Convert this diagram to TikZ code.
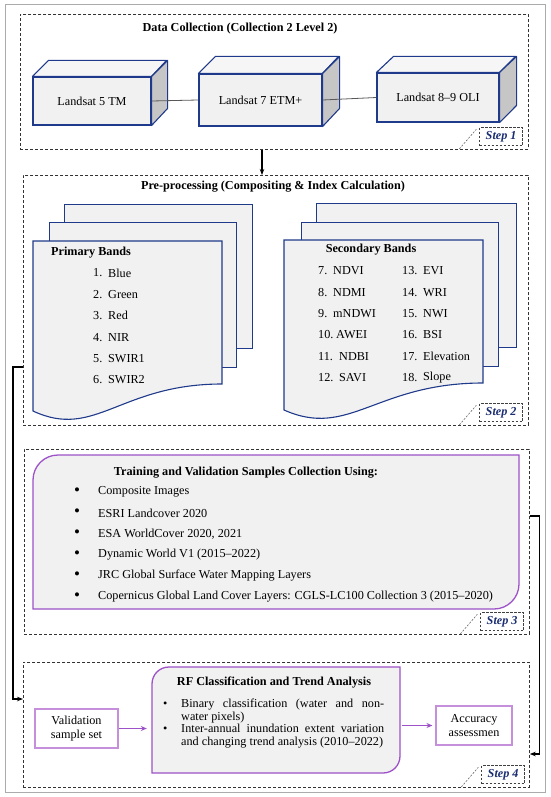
\documentclass[tikz,border=0pt]{standalone}
\usepackage{fontspec}
\setmainfont{Liberation Serif}
\usetikzlibrary{arrows.meta,calc}
\definecolor{navy}{HTML}{1F3A8A}
\definecolor{stepblue}{HTML}{1A2D70}
\definecolor{boxgray}{HTML}{F1F1F1}
\definecolor{topgray}{HTML}{F6F6F6}
\definecolor{sidegray}{HTML}{C6C6C6}
\definecolor{purp}{HTML}{9D52C8}
\definecolor{lpurp}{HTML}{C58FDC}
\definecolor{framegray}{HTML}{ABABAB}
\begin{document}
\begin{tikzpicture}[x=1pt,y=-1pt,
  every node/.style={inner sep=0pt},
  txt/.style={font=\fontsize{12.2}{13.5}\selectfont},
  btxt/.style={font=\bfseries\fontsize{12.2}{13.5}\selectfont},
  bul/.style={font=\fontsize{17}{17}\selectfont},
  stepframe/.style={draw=black!80, dash pattern=on 3pt off 2pt, line width=0.8pt, anchor=north west},
  steplabel/.style={draw=black!75, dash pattern=on 2.5pt off 1.5pt, line width=0.7pt,
     font=\bfseries\itshape\fontsize{12.2}{13.5}\selectfont, text=stepblue,
     minimum width=43pt, minimum height=18pt, anchor=south east},
  diag/.style={draw=black!60, dash pattern=on 2pt off 1.5pt, line width=0.6pt},
  front/.style={draw=navy, fill=boxgray, line width=1.1pt, txt},
  face/.style={draw=navy, line width=1.1pt, line join=round},
  page/.style={draw=navy, fill=boxgray, line width=1.1pt},
  conn/.style={draw=black, line width=1.1pt},
  link/.style={draw=black!65, line width=0.8pt},
  parrow/.style={draw=purp, line width=1.1pt, -{Stealth[length=6pt,width=5pt]}},
  lbox/.style={draw=lpurp, fill=white, line width=1.1pt, txt, align=center}
]
\useasboundingbox (0,0) rectangle (550,797);
\draw[framegray, line width=1pt] (5,5) rectangle (545,792);

% ---------- Step frames ----------
\node[stepframe, minimum width=508pt, minimum height=135pt] (s1) at (20,14) {};
\node[stepframe, minimum width=505pt, minimum height=250pt] (s2) at (23,175) {};
\node[stepframe, minimum width=505pt, minimum height=185pt] (s3) at (24,449) {};
\node[stepframe, minimum width=506pt, minimum height=125pt] (s4) at (23,662) {};

\node[steplabel] (l1) at (523,146) {Step 1};
\node[steplabel] (l2) at (523,422) {Step 2};
\node[steplabel] (l3) at (524,631) {Step 3};
\node[steplabel] (l4) at (525,784) {Step 4};
\foreach \l in {l1,l2,l3,l4} {
  \draw[diag] ($(\l.south west)+(-20,3)$) -- ($(\l.north west)+(-3,2)$);
}

% ---------- Step 1 ----------
\node[btxt] (t1) at (240,29) {Data Collection (Collection 2 Level 2)};

\node[front, minimum width=118pt, minimum height=48pt] (L5) at (92,101) {Landsat 5 TM};
\draw[face, fill=topgray] (L5.north west) -- ++(16,-16) -- ++(118,0) -- (L5.north east) -- cycle;
\draw[face, fill=sidegray] (L5.north east) -- ++(16,-16) -- ++(0,48) -- (L5.south east) -- cycle;

\node[front, minimum width=123pt, minimum height=52pt] (L7) at (260.5,100) {Landsat 7 ETM+};
\draw[face, fill=topgray] (L7.north west) -- ++(17,-17) -- ++(123,0) -- (L7.north east) -- cycle;
\draw[face, fill=sidegray] (L7.north east) -- ++(17,-17) -- ++(0,52) -- (L7.south east) -- cycle;

\node[front, minimum width=122pt, minimum height=49pt] (L8) at (438,97.5) {Landsat 8–9 OLI};
\draw[face, fill=topgray] (L8.north west) -- ++(17,-16) -- ++(122,0) -- (L8.north east) -- cycle;
\draw[face, fill=sidegray] (L8.north east) -- ++(17,-16) -- ++(0,49) -- (L8.south east) -- cycle;

\draw[link] (L5.east) -- (L7.west);
\draw[link] (L7.east) -- (L8.west);

% ---------- Step 2 ----------
\node[btxt] (t2) at (273,187) {Pre-processing (Compositing \& Index Calculation)};

\node[page, minimum width=188pt, minimum height=144pt, anchor=north west] (pb3) at (64,204) {};
\node[page, minimum width=187pt, minimum height=145pt, anchor=north west] (pb2) at (49,222) {};
\coordinate (pb1) at (33,241);
\draw[page] (pb1) -- (222,241) -- (222,384) .. controls (120,384) and (95,440) .. (33,411) -- cycle;

\node[page, minimum width=200pt, minimum height=144pt, anchor=north west] (sb3) at (316,203) {};
\node[page, minimum width=197pt, minimum height=144pt, anchor=north west] (sb2) at (301,222) {};
\coordinate (sb1) at (284,240);
\draw[page] (sb1) -- (483,240) -- (483,383) .. controls (376,383) and (349,439) .. (284,410) -- cycle;

\node[btxt, anchor=west] (pbt) at (51,253) {Primary Bands};
\foreach \n/\t [count=\i from 0] in {1./Blue,2./Green,3./Red,4./NIR,5./SWIR1,6./SWIR2} {
  \node[txt, anchor=west] (pn\i) at (93,273+21.4*\i) {\n};
  \node[txt, anchor=west] (pt\i) at (108,273+21.4*\i) {\t};
}

\node[btxt] (sbt) at (371,250) {Secondary Bands};
\foreach \n/\t/\xo [count=\i from 0] in {7./NDVI/333,8./NDMI/333,9./mNDWI/333,10./AWEI/336,11./NDBI/339,12./SAVI/339} {
  \node[txt, anchor=west] (sn\i) at (318,271+21.3*\i) {\n};
  \node[txt, anchor=west] (st\i) at (\xo,271+21.3*\i) {\t};
}
\foreach \n/\t [count=\i from 0] in {13./EVI,14./WRI,15./NWI,16./BSI,17./Elevation,18./Slope} {
  \node[txt, anchor=west] (rn\i) at (402,271+21.3*\i) {\n};
  \node[txt, anchor=west] (rt\i) at (423,271+21.3*\i) {\t};
}

% ---------- Step 3 ----------
\node[minimum width=486pt, minimum height=154pt] (train) at (276,532) {};
\draw[draw=purp, fill=boxgray, line width=1.3pt]
  (33,609) -- (33,480) .. controls (33,466.2) and (44.2,455) .. (58,455) -- (519,455)
  -- (519,584) .. controls (519,597.8) and (507.8,609) .. (494,609) -- cycle;
\node[btxt] (t3) at (246,473) {Training and Validation Samples Collection Using:};
\foreach \t [count=\i from 0] in {Composite Images, ESRI Landcover 2020, {ESA WorldCover 2020, 2021}, Dynamic World V1 (2015–2022), JRC Global Surface Water Mapping Layers, Copernicus Global Land Cover Layers: CGLS-LC100 Collection 3 (2015–2020)} {
  \node[bul] (b\i) at (77,492+21*\i) {\textbullet};
  \node[txt, anchor=west] (i\i) at (98,492+21*\i) {\t};
}

% ---------- Step 4 ----------
\node[minimum width=248pt, minimum height=106pt] (rf) at (276,720) {};
\draw[draw=purp, fill=boxgray, line width=1.3pt]
  (152,773) -- (152,684) .. controls (152,674.6) and (159.4,667) .. (169,667) -- (400,667)
  -- (400,756) .. controls (400,765.4) and (392.6,773) .. (383,773) -- cycle;
\node[btxt] (t4) at (274,683) {RF Classification and Trend Analysis};
\node[anchor=north west, txt] (rfbody) at (163,699) {%
\begin{minipage}{221pt}\fontsize{12.2}{12.6}\selectfont
\hangindent=18pt\hangafter=1\noindent\makebox[18pt][l]{\textbullet}Binary classification (water and non-\linebreak water pixels)\par
\hangindent=18pt\hangafter=1\noindent\makebox[18pt][l]{\textbullet}Inter-annual inundation extent variation and changing trend analysis (2010–2022)\par
\end{minipage}};

\node[lbox, minimum width=83pt, minimum height=39pt] (val) at (76.5,728.5) {Validation\\sample set};
\node[lbox, minimum width=76pt, minimum height=39pt] (acc) at (474,725.5) {Accuracy\\assessmen};

\draw[parrow, shorten >=5pt] (val.east) -- (val.east -| rf.west);
\draw[parrow, shorten <=2pt, shorten >=3pt] (acc.west -| rf.east) -- (acc.west);

% ---------- Connectors ----------
\coordinate (a1) at (262,0);
\draw[conn, -{Stealth[length=6pt,width=4.5pt]}] (a1 |- s1.south) -- (a1 |- s2.north);
\coordinate (c1) at (0,367);
\coordinate (c2) at (0,699);
\draw[conn, -{Stealth[length=6pt,width=4.5pt]}] (s2.west |- c1) -- ++(-10,0) |- (s4.west |- c2);
\coordinate (c3) at (0,516);
\coordinate (c4) at (0,754);
\draw[conn, -{Stealth[length=6pt,width=4.5pt]}] (s3.east |- c3) -- ++(10,0) |- (s4.east |- c4);
\end{tikzpicture}
\end{document}
